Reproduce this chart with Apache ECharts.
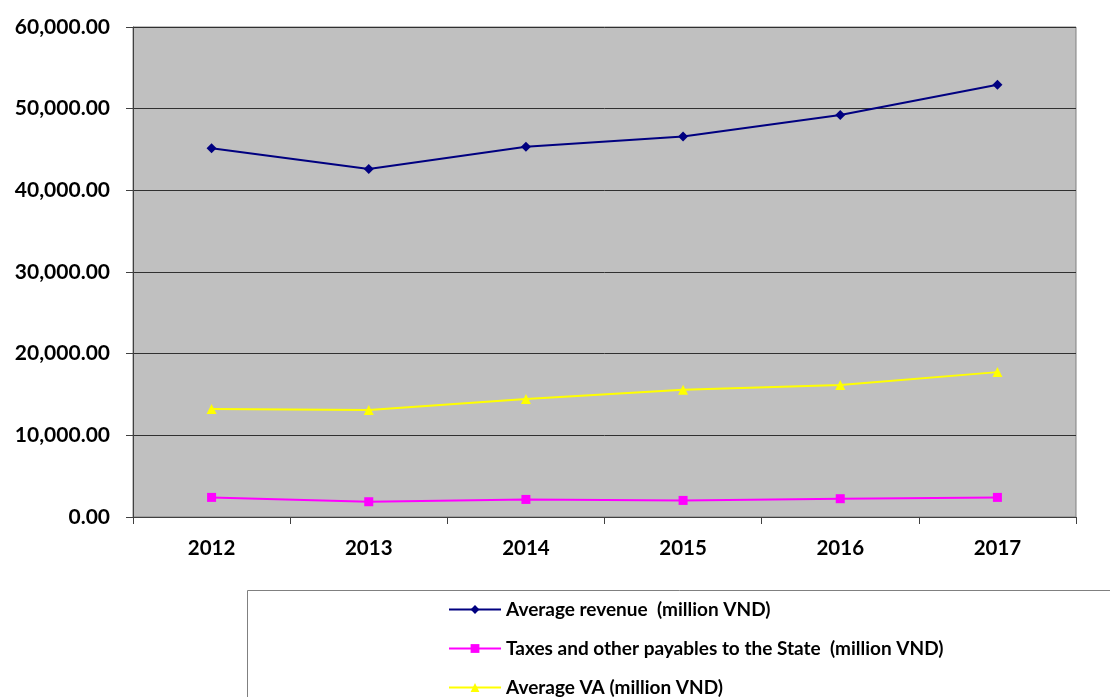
<!DOCTYPE html>
<html>
<head>
<meta charset="utf-8">
<script src="https://cdn.jsdelivr.net/npm/echarts@6/dist/echarts.min.js"></script>
<style>
  html, body { margin: 0; padding: 0; background: #fff; }
  #chart { width: 1110px; height: 697px; }
</style>
</head>
<body>
<div id="chart"></div>
<script>
// Years on the category axis
const years = ['2012', '2013', '2014', '2015', '2016', '2017'];

// Series values (million VND)
const avgRevenue = [45150, 42620, 45350, 46580, 49230, 52940];
const taxes = [2400, 1870, 2150, 2030, 2240, 2400];
const avgVA = [13220, 13090, 14440, 15580, 16150, 17740];

// Series names shown in the legend
const seriesNames = [
  'Average revenue  (million VND)',
  'Taxes and other payables to the State  (million VND)',
  'Average VA (million VND)'
];

const FONT = 'Lato, "Open Sans", sans-serif';

const chart = echarts.init(document.getElementById('chart'));

function fmt(v) {
  return v.toLocaleString('en-US', { minimumFractionDigits: 2, maximumFractionDigits: 2 });
}

// One legend block per row so the rows stack in a single column
const legendRowCenters = [609, 648, 687];
const legendFont = 19;
const legends = seriesNames.map((name, i) => ({
  orient: 'vertical',
  left: 448,
  top: legendRowCenters[i] - Math.round(legendFont / 2) + 1,
  padding: 0,
  itemWidth: 52,
  itemHeight: 11,
  itemGap: 5,
  textStyle: { fontFamily: FONT, fontWeight: 'bold', fontSize: legendFont, color: '#000', padding: [0, 0, 0, 0] },
  data: [name],
  z: 5
}));

chart.setOption({
  animation: false,
  backgroundColor: '#ffffff',
  textStyle: { fontFamily: FONT },
  grid: {
    left: 133, right: 34, top: 27, bottom: 180,
    show: true,
    backgroundColor: '#c0c0c0',
    borderColor: '#808080',
    borderWidth: 1
  },
  graphic: [{
    type: 'rect',
    left: 247, top: 590,
    shape: { width: 880, height: 120 },
    style: { fill: '#ffffff', stroke: '#808080', lineWidth: 1 },
    z: 0
  }],
  legend: legends,
  xAxis: {
    type: 'category',
    data: years,
    boundaryGap: true,
    axisLine: { show: true, lineStyle: { color: '#404040', width: 1 } },
    axisTick: { show: true, inside: false, length: 7, alignWithLabel: false, lineStyle: { color: '#404040' } },
    axisLabel: { margin: 21, fontSize: 20.5, fontWeight: 'bold', color: '#000', fontFamily: FONT },
    splitLine: { show: false }
  },
  yAxis: {
    type: 'value',
    min: 0, max: 60000, interval: 10000,
    axisLine: { show: true, lineStyle: { color: '#404040', width: 1 } },
    axisTick: { show: true, inside: false, length: 7, lineStyle: { color: '#404040' } },
    axisLabel: { margin: 23, fontSize: 21, fontWeight: 'bold', color: '#000', fontFamily: FONT, formatter: fmt },
    splitLine: { show: true, lineStyle: { color: '#303030', width: 1 } }
  },
  series: [
    {
      name: seriesNames[0], type: 'line', data: avgRevenue,
      symbol: 'diamond', symbolSize: 10,
      lineStyle: { color: '#000080', width: 2 },
      itemStyle: { color: '#000080' }
    },
    {
      name: seriesNames[1], type: 'line', data: taxes,
      symbol: 'rect', symbolSize: 9,
      lineStyle: { color: '#ff00ff', width: 2 },
      itemStyle: { color: '#ff00ff' }
    },
    {
      name: seriesNames[2], type: 'line', data: avgVA,
      symbol: 'triangle', symbolSize: 10,
      lineStyle: { color: '#ffff00', width: 2 },
      itemStyle: { color: '#ffff00' }
    }
  ]
});
</script>
</body>
</html>
